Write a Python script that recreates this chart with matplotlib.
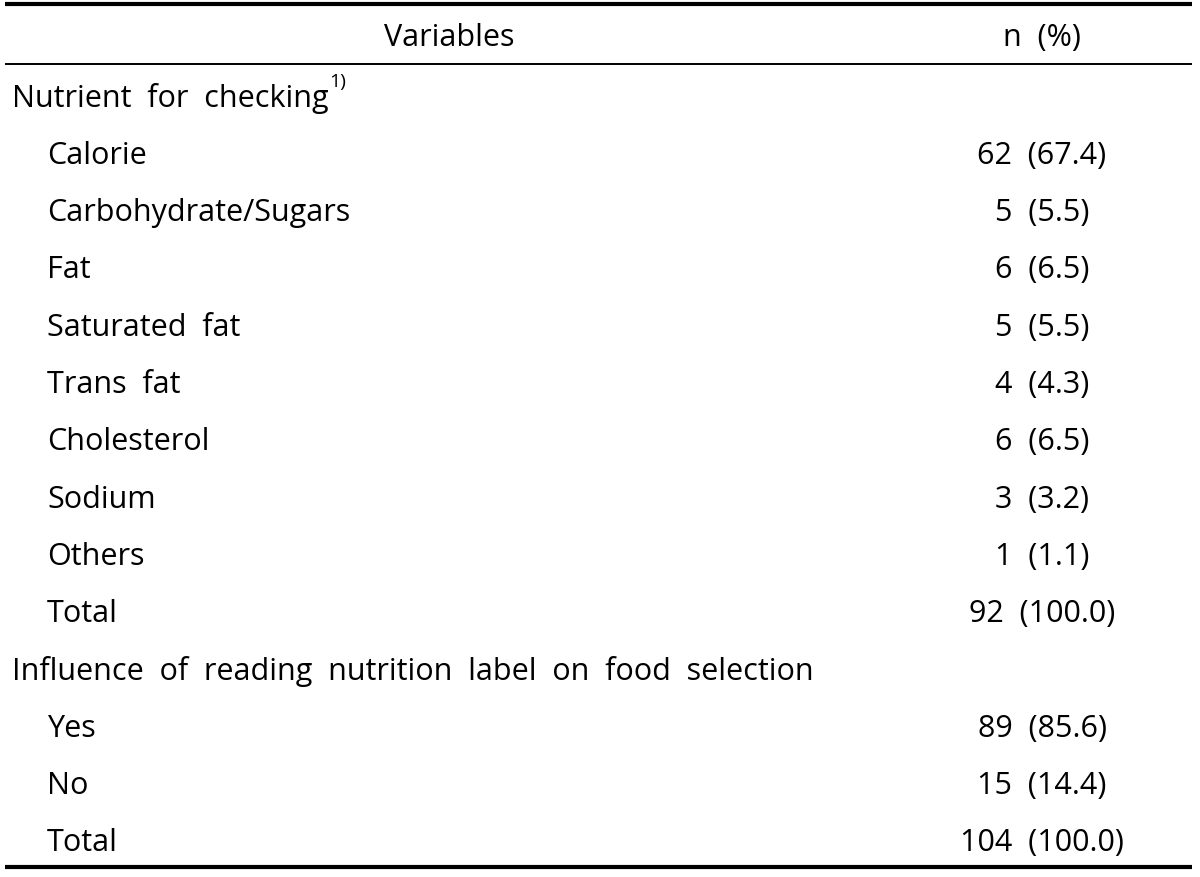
import matplotlib
matplotlib.use("Agg")
import matplotlib.pyplot as plt

# ---- data ----
header_left = "Variables"
header_right = "n  (%)"

section1_title = "Nutrient  for  checking"
section1_sup = "1)"
section1_labels = ["Calorie", "Carbohydrate/Sugars", "Fat", "Saturated  fat", "Trans  fat",
                   "Cholesterol", "Sodium", "Others", "Total"]
section1_n = [62, 5, 6, 5, 4, 6, 3, 1, 92]
section1_pct = [67.4, 5.5, 6.5, 5.5, 4.3, 6.5, 3.2, 1.1, 100.0]

section2_title = "Influence  of  reading  nutrition  label  on  food  selection"
section2_labels = ["Yes", "No", "Total"]
section2_n = [89, 15, 104]
section2_pct = [85.6, 14.4, 100.0]

W, H = 1200, 878
fig = plt.figure(figsize=(12, 8.78), dpi=100)
ax = fig.add_axes([0, 0, 1, 1])
ax.set_xlim(0, W)
ax.set_ylim(H, 0)
ax.axis("off")

FONT = "Open Sans"
FS = 22
col = "black"

# rules
ax.plot([5, 1192], [5, 5], color=col, lw=3.0, solid_capstyle="butt")
ax.plot([5, 1192], [65, 65], color=col, lw=1.4, solid_capstyle="butt")
ax.plot([5, 1192], [868, 868], color=col, lw=3.0, solid_capstyle="butt")

# header
ax.text(449, 38, header_left, ha="center", va="center", fontsize=FS, family=FONT)
ax.text(1042, 38, header_right, ha="center", va="center", fontsize=FS, family=FONT)

x_sec, x_item, x_c = 12, 47, 1042
y0, dy = 98.5, 57.3

rows = []
rows.append(("sec", section1_title, None, None))
for l, n, p in zip(section1_labels, section1_n, section1_pct):
    rows.append(("item", l, n, p))
rows.append(("sec", section2_title, None, None))
for l, n, p in zip(section2_labels, section2_n, section2_pct):
    rows.append(("item", l, n, p))

fig.canvas.draw()
renderer = fig.canvas.get_renderer()
inv = ax.transData.inverted()
for i, (kind, label, n, p) in enumerate(rows):
    y = y0 + i * dy
    x = x_sec if kind == "sec" else x_item
    t = ax.text(x, y, label, ha="left", va="center", fontsize=FS, family=FONT)
    if kind == "sec" and label == section1_title:
        bb = t.get_window_extent(renderer=renderer)
        xe = inv.transform((bb.x1, bb.y1))[0]
        ax.text(xe + 1, y - 16, section1_sup, ha="left", va="center", fontsize=14, family=FONT)
    if n is not None:
        ax.text(x_c, y, f"{n}  ({p:.1f})", ha="center", va="center", fontsize=FS, family=FONT)

fig.savefig("out.png", dpi=100)
